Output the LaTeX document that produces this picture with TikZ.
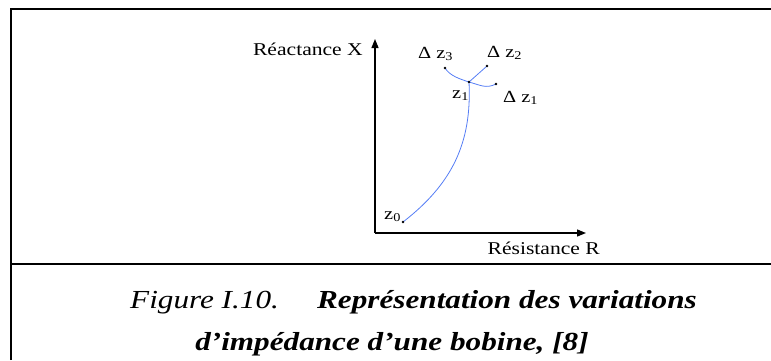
\documentclass[tikz,border=0pt]{standalone}
\usepackage{fontspec}
\setmainfont{Liberation Serif}[FakeStretch=1.2]
\usepackage{xcolor}
\usetikzlibrary{arrows.meta}
\definecolor{curveblue}{RGB}{85,125,245}

\tikzset{
  axislab/.style={inner sep=0pt, font=\fontsize{18}{20}\selectfont},
  ptlab/.style={anchor=base west, inner sep=0pt, font=\fontsize{17}{19}\selectfont},
  caplab/.style={inner sep=0pt, font=\fontsize{26}{30}\selectfont\itshape},
  branch/.style={curveblue, line width=0.8pt}
}

\begin{document}
\begin{tikzpicture}[x=1pt, y=-1pt, >={Triangle[length=9pt, width=7pt]}]
  \useasboundingbox (0,0) rectangle (771,360);

  % Frame of the figure and caption separator
  \draw[line width=2.2pt] (11,360) -- (11,9) -- (771,9);
  \draw[line width=1.3pt] (11,264) -- (771,264);

  % Axes
  \coordinate (O) at (375,233);
  \coordinate (Xend) at (586,233);
  \coordinate (Yend) at (375,39);
  \draw[->, line width=1.3pt] (O) -- (Xend);
  \draw[->, line width=1.3pt] (O) -- (Yend);
  \node[axislab, anchor=base east] (ylab) at (363,55) {Réactance X};
  \node[axislab, anchor=base east] (xlab) at (600,254) {Résistance R};

  % Impedance points
  \coordinate (z0) at (403,222);
  \coordinate (z1) at (469,82);
  \coordinate (d1) at (496,84);
  \coordinate (d2) at (487,66);
  \coordinate (d3) at (445,68);

  % Impedance curve and its variations
  \draw[branch] (z0) .. controls (452,184) and (472,143) .. (z1);
  \draw[branch] (d3) .. controls (450,76) and (460,79) .. (z1);
  \draw[branch] (z1) -- (d2);
  \draw[branch] (z1) .. controls (480,85) and (486,89) .. (d1);
  \foreach \p in {z0,z1,d1,d2,d3}
    \fill (\p) circle (1.3pt);

  % Labels
  \node[ptlab] (z0lab) at (384,219) {z\textsubscript{0}};
  \node[ptlab] (z1lab) at (452,98) {z\textsubscript{1}};
  \node[ptlab] (d1lab) at (503,102) {Δ z\textsubscript{1}};
  \node[ptlab] (d2lab) at (487,57) {Δ z\textsubscript{2}};
  \node[ptlab] (d3lab) at (418,58) {Δ z\textsubscript{3}};

  % Caption
  \node[caplab, anchor=base west] (fig) at (130,308) {Figure I.10.};
  \node[caplab, anchor=base east, font=\fontsize{26}{30}\selectfont\bfseries\itshape] (cap1) at (697,308) {Représentation des variations};
  \node[caplab, anchor=base, font=\fontsize{26}{30}\selectfont\bfseries\itshape] (cap2) at (392,350) {d’impédance d’une bobine, [8]};
\end{tikzpicture}
\end{document}
